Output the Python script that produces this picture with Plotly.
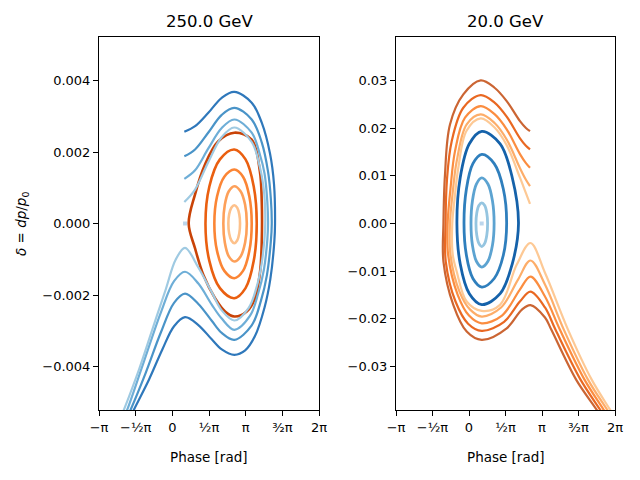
import numpy as np
import plotly.graph_objects as go

# ---------------- 250.0 GeV panel ----------------
# bound orbits around the stable phase (inner -> outer); phase in rad, dp/p0 in units of 1e-3
e250_bound_phase = [
    [2.656, 2.778, 2.867, 2.90, 2.867, 2.778, 2.656, 2.528, 2.434, 2.40, 2.434, 2.528, 2.656],
    [2.656, 2.923, 3.118, 3.19, 3.118, 2.923, 2.656, 2.42, 2.248, 2.185, 2.248, 2.42, 2.656],
    [2.656, 3.028, 3.30, 3.40, 3.30, 3.028, 2.656, 2.228, 1.915, 1.80, 1.915, 2.228, 2.656],
    [2.656, 3.136, 3.487, 3.616, 3.487, 3.136, 2.656, 2.038, 1.586, 1.42, 1.586, 2.038, 2.656],
    [2.656, 3.40, 3.75, 3.83, 3.83, 3.76, 3.54, 3.19, 2.656, 2.26, 1.83, 1.33,
     0.97, 0.70, 0.97, 1.40, 1.97, 2.656],
]
e250_bound_dp = [
    [0.512, 0.443, 0.256, 0.0, -0.276, -0.477, -0.551, -0.477, -0.276, 0.0, 0.256, 0.443, 0.512],
    [1.043, 0.903, 0.522, 0.0, -0.532, -0.921, -1.063, -0.921, -0.532, 0.0, 0.522, 0.903, 1.043],
    [1.51, 1.308, 0.755, 0.0, -0.765, -1.325, -1.53, -1.325, -0.765, 0.0, 0.755, 1.308, 1.51],
    [2.07, 1.793, 1.035, 0.0, -1.045, -1.809, -2.089, -1.809, -1.045, 0.0, 1.035, 1.793, 2.07],
    [2.54, 2.35, 1.46, 0.62, -0.5, -1.34, -2.09, -2.46, -2.60, -2.46, -2.09, -1.44,
     -0.69, 0.0, 0.81, 1.65, 2.30, 2.54],
]

# unbound trajectories (outer -> inner)
e250_free_phase = [
    [0.514, 0.973, 1.542, 2.117, 2.656, 3.40, 3.83, 4.186, 4.357, 4.40, 4.37, 4.20,
     3.95, 3.54, 3.12, 2.656, 2.117, 1.688, 1.114, 0.544, 0.073, -0.428, -0.998,
     -1.641, -1.94],
    [0.514, 0.973, 1.542, 2.117, 2.656, 3.40, 3.83, 4.10, 4.22, 4.26, 4.22, 4.05,
     3.80, 3.40, 2.656, 2.117, 1.688, 1.114, 0.544, 0.073, -0.497, -1.14, -1.782,
     -2.07],
    [0.514, 0.973, 1.542, 2.117, 2.656, 3.40, 3.76, 3.95, 4.07, 4.10, 4.07, 3.92,
     3.68, 3.33, 2.656, 2.117, 1.688, 1.114, 0.544, 0.073, -0.497, -1.285, -1.928,
     -2.20],
    [0.514, 0.973, 1.542, 2.117, 2.656, 3.40, 3.76, 3.90, 3.97, 3.98, 3.95, 3.82,
     3.60, 3.28, 2.656, 2.117, 1.688, 1.114, 0.544, 0.146, -0.283, -0.857, -1.427,
     -2.069, -2.33],
]
e250_free_dp = [
    [2.565, 2.721, 3.096, 3.516, 3.684, 3.38, 2.82, 1.95, 1.09, 0.0, -0.5, -1.55,
     -2.35, -3.15, -3.55, -3.673, -3.52, -3.24, -2.84, -2.62, -2.873, -3.524,
     -4.363, -5.202, -5.62],
    [1.88, 2.07, 2.545, 3.04, 3.236, 2.91, 2.27, 1.45, 0.7, 0.0, -0.5, -1.45,
     -2.15, -2.85, -3.253, -3.06, -2.72, -2.25, -1.96, -2.218, -3.057, -4.176,
     -5.202, -5.62],
    [1.25, 1.49, 2.1, 2.67, 2.909, 2.54, 1.91, 1.4, 0.6, 0.0, -0.45, -1.3, -1.95,
     -2.58, -2.973, -2.66, -2.27, -1.68, -1.35, -1.614, -2.498, -3.991, -5.202,
     -5.62],
    [0.6, 0.95, 1.72, 2.42, 2.685, 2.28, 1.55, 1.05, 0.5, 0.0, -0.4, -1.15, -1.8,
     -2.35, -2.713, -2.43, -1.92, -1.23, -0.68, -1.007, -1.846, -2.965, -4.084,
     -5.202, -5.62],
]
e250_dot = (0.544, 0.0)

# ---------------- 20.0 GeV panel ----------------
# bound orbits (inner -> outer); dp/p0 in units of 1e-3
e20_bound_phase = [
    [0.55, 0.675, 0.767, 0.80, 0.767, 0.675, 0.55, 0.425, 0.333, 0.30, 0.333, 0.425, 0.55],
    [0.55, 0.815, 1.009, 1.08, 1.009, 0.815, 0.55, 0.318, 0.148, 0.086, 0.148, 0.318, 0.55],
    [0.55, 1.085, 1.477, 1.62, 1.477, 1.085, 0.55, 0.168, -0.112, -0.215, -0.112, 0.168, 0.55],
    [0.55, 1.34, 1.86, 2.13, 1.86, 1.34, 0.55, 0.015, -0.377, -0.52, -0.377, 0.015, 0.55],
]
e20_bound_dp = [
    [4.34, 3.76, 2.17, 0.0, -2.415, -4.18, -4.83, -4.18, -2.415, 0.0, 2.17, 3.76, 4.34],
    [9.55, 8.27, 4.775, 0.0, -4.565, -7.91, -9.13, -7.91, -4.565, 0.0, 4.775, 8.27, 9.55],
    [14.48, 12.54, 7.24, 0.0, -6.66, -11.53, -13.32, -11.53, -6.66, 0.0, 7.24, 12.54, 14.48],
    [19.3, 16.71, 9.65, 0.0, -8.5, -14.72, -17.0, -14.72, -8.5, 0.0, 9.65, 16.71, 19.3],
]
e20_dot = (0.546, 0.0)

# unbound trajectories (inner -> outer)
e20_free_phase = [
    [2.625, 2.45, 2.194, 1.622, 1.1, 0.503, -0.099, -0.460, -0.60, -0.72, -0.70,
     -0.529, -0.099, 0.546, 1.334, 2.052, 2.646, 3.27, 4.26, 5.28, 6.07, 6.39],
    [2.625, 2.45, 2.194, 1.622, 1.1, 0.503, -0.099, -0.529, -0.71, -0.82, -0.80,
     -0.41, 0.04, 0.546, 1.38, 2.11, 2.646, 3.27, 4.08, 5.12, 5.94, 6.26],
    [2.625, 2.45, 2.194, 1.622, 1.1, 0.503, -0.172, -0.602, -0.80, -0.92, -0.90,
     -0.49, 0.0, 0.546, 1.42, 2.19, 2.646, 3.27, 3.91, 4.97, 5.79, 6.11],
    [2.625, 2.45, 2.194, 1.622, 1.1, 0.503, -0.245, -0.744, -0.947, -1.01, -1.0,
     -0.58, -0.04, 0.546, 1.51, 2.19, 2.646, 3.27, 3.72, 4.80, 5.64, 5.96],
    [2.625, 2.45, 2.194, 1.622, 1.1, 0.503, -0.245, -0.818, -1.033, -1.10, -1.10,
     -0.676, -0.099, 0.546, 1.622, 2.268, 2.646, 3.27, 3.54, 4.61, 5.49, 5.81],
]
e20_free_dp = [
    [4.13, 6.38, 9.6, 16.43, 20.13, 22.03, 19.5, 11.69, 6.08, 0.0, -6.5, -10.07,
     -16.36, -18.32, -17.06, -8.66, -4.09, -10.34, -22.24, -32.73, -39.02, -41.5],
    [7.83, 9.17, 11.6, 17.62, 21.08, 22.87, 20.77, 13.07, 6.08, 0.0, -6.5, -14.27,
     -18.0, -19.51, -17.62, -11.75, -7.76, -12.8, -22.24, -32.73, -39.02, -41.5],
    [11.69, 12.65, 14.55, 19.75, 22.93, 24.61, 22.18, 15.17, 7.13, 0.0, -6.5,
     -14.9, -19.3, -20.92, -19.3, -13.85, -11.12, -15.3, -22.24, -32.73, -39.02,
     -41.5],
    [15.52, 16.28, 17.84, 22.4, 25.34, 26.92, 24.27, 17.27, 9.23, 0.0, -7.97,
     -16.36, -21.0, -22.51, -20.6, -16.36, -14.27, -17.6, -22.24, -32.73, -39.02,
     -41.5],
    [19.36, 20.02, 21.46, 25.66, 28.46, 30.0, 27.06, 20.77, 10.28, 0.0, -7.97,
     -17.06, -22.66, -24.4, -21.97, -18.1, -17.1, -19.7, -22.24, -32.73, -39.02,
     -41.5],
]

titles = ["250.0 GeV", "20.0 GeV"]
x_tickvals = [-np.pi, -np.pi / 2, 0, np.pi / 2, np.pi, 3 * np.pi / 2, 2 * np.pi]
x_ticktext = ["−π", "−½π", "0", "½π", "π", "³⁄₂π", "2π"]
y_ticks_250 = [-0.004, -0.002, 0.0, 0.002, 0.004]
y_ticks_20 = [-0.03, -0.02, -0.01, 0.0, 0.01, 0.02, 0.03]

# colours
blues_250 = ["#2f78bb", "#4a94c8", "#6eaed7", "#9fcae2"]
oranges_250 = ["#fdc18b", "#fda05a", "#fb8535", "#ea5f10", "#c94307"]
blues_20 = ["#95c5e0", "#5ca3d1", "#2f7fbd", "#1562aa"]
oranges_20 = ["#fdc995", "#fdad69", "#fb8d40", "#e96822", "#cb6533"]
dot_col = "#bcd6ec"

fig = go.Figure()


def curve(x, y, color, width, xa, ya):
    fig.add_trace(go.Scatter(
        x=x, y=np.array(y) * 1e-3, mode="lines", xaxis=xa, yaxis=ya,
        line=dict(color=color, width=width, shape="spline", smoothing=1.0),
        showlegend=False, hoverinfo="skip"
    ))


# left panel: orange orbits first, blue trajectories on top
for ph, dp, c in zip(e250_bound_phase, e250_bound_dp, oranges_250):
    curve(ph, dp, c, 2.6, "x", "y")
for ph, dp, c in zip(e250_free_phase, e250_free_dp, blues_250):
    curve(ph, dp, c, 2.2, "x", "y")
fig.add_trace(go.Scatter(x=[e250_dot[0]], y=[e250_dot[1]], mode="markers",
                         marker=dict(color=dot_col, size=4, symbol="square"),
                         xaxis="x", yaxis="y", showlegend=False))

# right panel
for ph, dp, c in zip(e20_bound_phase, e20_bound_dp, blues_20):
    curve(ph, dp, c, 2.8, "x2", "y2")
for ph, dp, c in zip(e20_free_phase, e20_free_dp, oranges_20):
    curve(ph, dp, c, 2.2, "x2", "y2")
fig.add_trace(go.Scatter(x=[e20_dot[0]], y=[e20_dot[1]], mode="markers",
                         marker=dict(color=dot_col, size=4, symbol="square"),
                         xaxis="x2", yaxis="y2", showlegend=False))

# page body adds an 8px margin, so the figure is 8px smaller on each side
W, H = 632, 472
OFF = 8
font = dict(family="DejaVu Sans", size=13, color="black")
ax_common = dict(showline=True, linecolor="black", linewidth=1, mirror=True,
                 ticks="outside", ticklen=5, tickwidth=1, tickcolor="black",
                 showgrid=False, zeroline=False, tickfont=font, automargin=False)


def px_x(p):
    return (p - OFF) / W


def px_y(p):
    return 1 - (p - OFF) / H


left_dom = [px_x(99), px_x(319)]
right_dom = [px_x(396), px_x(615)]
y_dom = [px_y(410), px_y(37)]

fig.update_layout(
    width=W, height=H,
    margin=dict(l=0, r=0, t=0, b=0, autoexpand=False),
    paper_bgcolor="white", plot_bgcolor="white",
    font=font,
    xaxis=dict(domain=left_dom, range=[-np.pi, 2 * np.pi], tickvals=x_tickvals,
               ticktext=x_ticktext, anchor="y", **ax_common),
    yaxis=dict(domain=y_dom, range=[-0.005217, 0.005217], tickvals=y_ticks_250,
               tickformat=".3f", anchor="x", **ax_common),
    xaxis2=dict(domain=right_dom, range=[-np.pi, 2 * np.pi], tickvals=x_tickvals,
                ticktext=x_ticktext, anchor="y2", **ax_common),
    yaxis2=dict(domain=y_dom, range=[-0.0391, 0.0391], tickvals=y_ticks_20,
                tickformat=".2f", anchor="x2", **ax_common),
)

for dom, t in zip([left_dom, right_dom], titles):
    xc = (dom[0] + dom[1]) / 2
    fig.add_annotation(x=xc, y=px_y(21), xref="paper", yref="paper", text=t,
                       showarrow=False, font=dict(family="DejaVu Sans", size=16.5),
                       xanchor="center", yanchor="middle")
    fig.add_annotation(x=xc, y=px_y(457), xref="paper", yref="paper",
                       text="Phase [rad]", showarrow=False,
                       font=dict(family="DejaVu Sans", size=13.5),
                       xanchor="center", yanchor="middle")

fig.add_annotation(x=px_x(22), y=px_y(224), xref="paper", yref="paper",
                   text="<i>δ</i> = <i>dp</i>/<i>p</i><sub>0</sub>", textangle=-90,
                   showarrow=False, font=dict(family="DejaVu Sans", size=13.5),
                   xanchor="center", yanchor="middle")

fig.write_html("out.html")
